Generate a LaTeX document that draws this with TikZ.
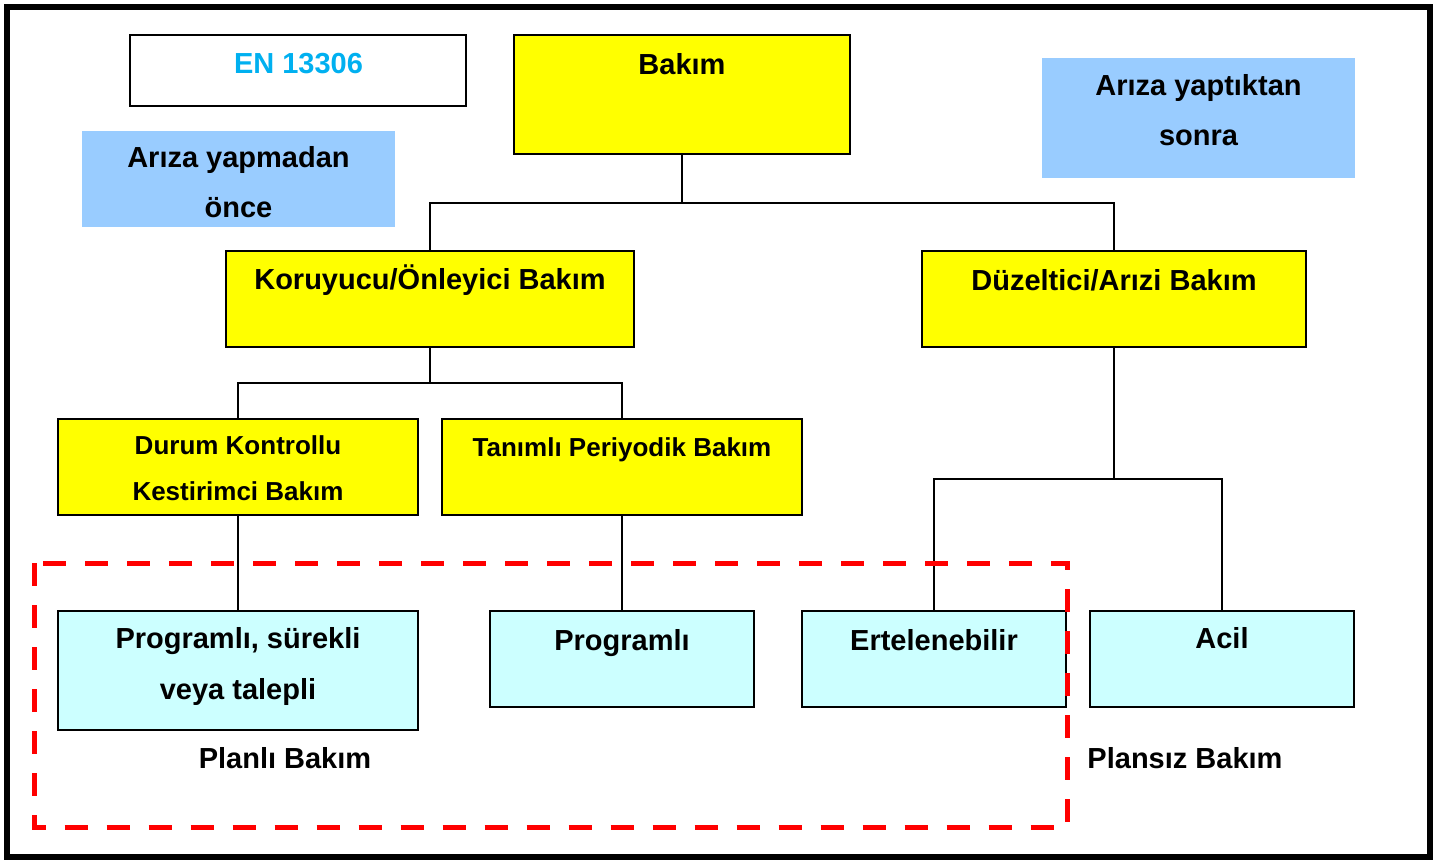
\documentclass[tikz,border=0pt]{standalone}
\usepackage{fontspec}
\setmainfont{Liberation Sans}
\definecolor{boxyellow}{HTML}{FFFF00}
\definecolor{boxcyan}{HTML}{CCFFFF}
\definecolor{boxblue}{HTML}{99CCFF}
\definecolor{entext}{HTML}{00B0F0}
\definecolor{dashred}{HTML}{FF0000}
\tikzset{
  box/.style={draw=black, line width=2pt, inner sep=0pt, outer sep=0pt},
  ybox/.style={box, fill=boxyellow},
  cbox/.style={box, fill=boxcyan},
  bbox/.style={fill=boxblue, inner sep=0pt, outer sep=0pt},
  txt/.style={font=\bfseries\fontsize{29}{34}\selectfont, anchor=base, inner sep=0pt},
  stxt/.style={font=\bfseries\fontsize{26}{30}\selectfont, anchor=base, inner sep=0pt},
  conn/.style={draw=black, line width=2pt},
  reddash/.style={draw=dashred, line width=5pt, dash pattern=on 23pt off 19pt}
}
\begin{document}
\begin{tikzpicture}[x=1pt,y=-1pt]
\useasboundingbox (0,0) rectangle (1441,860);
\fill[white] (0,0) rectangle (1441,860);
\draw[line width=6pt] (6.5,7) rectangle (1430,857);

% boxes
\node[box, fill=white, minimum width=336pt, minimum height=71pt] (en) at (298,70.5) {};
\node[bbox, minimum width=313pt, minimum height=96pt] (arz1) at (238.5,179) {};
\node[bbox, minimum width=313pt, minimum height=120pt] (arz2) at (1198.5,118) {};
\node[ybox, minimum width=336pt, minimum height=119pt] (bakim) at (682,94.5) {};
\node[ybox, minimum width=408pt, minimum height=96pt] (koru) at (430,299) {};
\node[ybox, minimum width=384pt, minimum height=96pt] (duz) at (1114,299) {};
\node[ybox, minimum width=360pt, minimum height=96pt] (durum) at (238,467) {};
\node[ybox, minimum width=360pt, minimum height=96pt] (tan) at (622,467) {};
\node[cbox, minimum width=360pt, minimum height=119pt] (prs) at (238,670.5) {};
\node[cbox, minimum width=264pt, minimum height=96pt] (prg) at (622,659) {};
\node[cbox, minimum width=264pt, minimum height=96pt] (ert) at (934,659) {};
\node[cbox, minimum width=264pt, minimum height=96pt] (acil) at (1222,659) {};

% texts
\node[txt, text=entext] (en-t) at (298.5,73) {EN 13306};
\node[txt] (arz1-t1) at (238.5,167) {Arıza yapmadan};
\node[txt] (arz1-t2) at (238.5,217) {önce};
\node[txt] (arz2-t1) at (1198.5,95) {Arıza yaptıktan};
\node[txt] (arz2-t2) at (1198.5,145) {sonra};
\node[txt] (bakim-t) at (682,74) {Bakım};
\node[txt] (koru-t) at (430,289) {Koruyucu/Önleyici Bakım};
\node[txt] (duz-t) at (1114,290) {Düzeltici/Arızi Bakım};
\node[stxt] (durum-t1) at (238,454) {Durum Kontrollu};
\node[stxt] (durum-t2) at (238,500) {Kestirimci Bakım};
\node[stxt] (tan-t) at (622,456) {Tanımlı Periyodik Bakım};
\node[txt] (prs-t1) at (238,648) {Programlı, sürekli};
\node[txt] (prs-t2) at (238,699) {veya talepli};
\node[txt] (prg-t) at (622,650) {Programlı};
\node[txt] (ert-t) at (934,650) {Ertelenebilir};
\node[txt] (acil-t) at (1222,648) {Acil};
\node[txt] (planli) at (285,768) {Planlı Bakım};
\node[txt] (plansiz) at (1185,768) {Plansız Bakım};

% connectors
\draw[conn] (bakim.south) -- ++(0,49) coordinate (j1);
\draw[conn] (j1) -| (koru.north);
\draw[conn] (j1) -| (duz.north);
\draw[conn] (koru.south) -- ++(0,36) coordinate (j2);
\draw[conn] (j2) -| (durum.north);
\draw[conn] (j2) -| (tan.north);
\draw[conn] (duz.south) -- ++(0,132) coordinate (j3);
\draw[conn] (j3) -| (ert.north);
\draw[conn] (j3) -| (acil.north);
\draw[conn] (durum.south) -- (prs.north);
\draw[conn] (tan.south) -- (prg.north);

% red dashed region
\draw[reddash] (34.5,563) rectangle (1067,827);
\end{tikzpicture}
\end{document}
